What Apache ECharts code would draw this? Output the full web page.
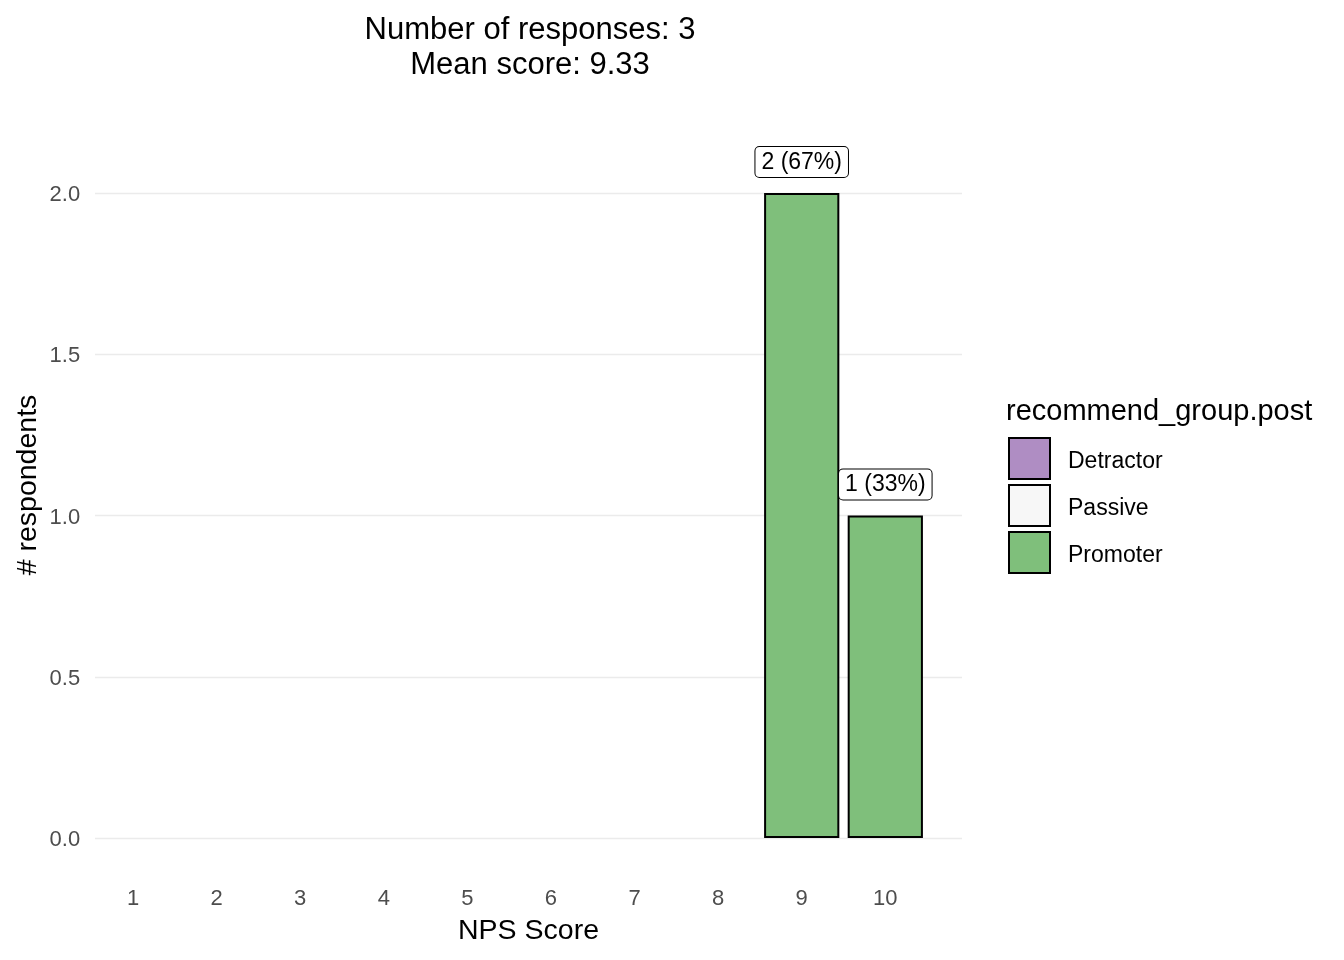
<!DOCTYPE html>
<html>
<head>
<meta charset="utf-8">
<script src="https://cdn.jsdelivr.net/npm/echarts@6/dist/echarts.min.js"></script>
<style>
html,body{margin:0;padding:0;background:#fff;}
#chart{width:1344px;height:960px;}
</style>
</head>
<body>
<div id="chart"></div>
<script>
const categories = ['1','2','3','4','5','6','7','8','9','10'];
const detractorCounts = [0,0,0,0,0,0,0,0,0,0];
const passiveCounts   = [0,0,0,0,0,0,0,0,0,0];
const promoterCounts  = [0,0,0,0,0,0,0,0,2,1];
const yTicks = [0, 0.5, 1.0, 1.5, 2.0];
const groupNames = ['Detractor','Passive','Promoter'];
const groupColors = ['#AF8DC3','#F7F7F7','#7FBF7B'];
const titleLines = ['Number of responses: 3','Mean score: 9.33'];

const FONT = '"Liberation Sans", Arial, sans-serif';
const total = [...detractorCounts, ...passiveCounts, ...promoterCounts].reduce((a,b)=>a+b,0);
const toData = arr => arr.map(v => v === 0 ? '-' : v);

const chart = echarts.init(document.getElementById('chart'), null, {renderer:'canvas'});

function barSeries(name, color, counts, withLabel){
  return {
    name: name,
    type: 'bar',
    stack: 'nps',
    xAxisIndex: 0, yAxisIndex: 0,
    barWidth: '90%',
    data: toData(counts),
    itemStyle: {color: color, borderColor: '#000', borderWidth: 2},
    label: withLabel ? {
      show: true,
      position: 'top',
      distance: 16,
      formatter: p => p.value + ' (' + Math.round(p.value / total * 100) + '%)',
      fontFamily: FONT,
      fontSize: 23,
      color: '#000',
      backgroundColor: '#fff',
      borderColor: '#000',
      borderWidth: 1,
      borderRadius: 4,
      padding: [4, 6, 3, 6]
    } : {show: false},
    emphasis: {disabled: true}
  };
}

const option = {
  animation: false,
  backgroundColor: '#fff',
  title: [
    {
      text: titleLines[0],
      subtext: titleLines[1],
      left: 530, top: 13,
      textAlign: 'center',
      itemGap: 0,
      padding: 0,
      textStyle: {fontFamily: FONT, fontSize: 31, fontWeight: 'normal', color: '#000', lineHeight: 35},
      subtextStyle: {fontFamily: FONT, fontSize: 31, color: '#000', lineHeight: 35}
    },
    {
      text: 'recommend_group.post',
      left: 1006, top: 396,
      padding: 0,
      textStyle: {fontFamily: FONT, fontSize: 29, fontWeight: 'normal', color: '#000', lineHeight: 32}
    }
  ],
  legend: {
    orient: 'vertical',
    left: 1008, top: 437,
    padding: 0,
    itemWidth: 41, itemHeight: 41, itemGap: 4,
    icon: 'rect',
    data: groupNames,
    itemStyle: {borderColor: '#000', borderWidth: 2},
    formatter: name => '{t|' + name + '}',
    textStyle: {
      fontFamily: FONT, fontSize: 23, color: '#000',
      rich: {t: {fontFamily: FONT, fontSize: 23, color: '#000', padding: [6, 0, 0, 13]}}
    },
    selectedMode: false
  },
  graphic: [
    {
      type: 'text',
      x: 28, y: 485,
      rotation: Math.PI / 2,
      style: {text: '# respondents', fontFamily: FONT, fontSize: 28.5, fill: '#000', align: 'center', verticalAlign: 'middle'}
    }
  ],
  grid: [
    {left: 91.2, top: 193, width: 835.9, height: 645},
    {left: 95, top: 193, width: 867, height: 645}
  ],
  xAxis: [
    {
      type: 'category', gridIndex: 0, data: categories,
      axisLine: {show: false}, axisTick: {show: false}, splitLine: {show: false},
      axisLabel: {fontFamily: FONT, fontSize: 22, color: '#4D4D4D', margin: 50, lineHeight: 22}
    },
    {
      type: 'value', gridIndex: 1, min: 0, max: 1,
      axisLine: {show: false}, axisTick: {show: false}, axisLabel: {show: false}, splitLine: {show: false},
      name: 'NPS Score', nameLocation: 'middle', nameGap: 78,
      nameTextStyle: {fontFamily: FONT, fontSize: 28.5, color: '#000', lineHeight: 30}
    }
  ],
  yAxis: [
    {
      type: 'value', gridIndex: 0, min: yTicks[0], max: yTicks[yTicks.length-1], interval: yTicks[1]-yTicks[0],
      axisLine: {show: false}, axisTick: {show: false}, splitLine: {show: false},
      axisLabel: {
        fontFamily: FONT, fontSize: 22, color: '#4D4D4D', margin: 11,
        formatter: v => '{y|' + v.toFixed(1) + '}',
        rich: {y: {fontFamily: FONT, fontSize: 22, color: '#4D4D4D', padding: [4, 0, 0, 0]}}
      }
    },
    {
      type: 'value', gridIndex: 1, min: yTicks[0], max: yTicks[yTicks.length-1], interval: yTicks[1]-yTicks[0],
      axisLine: {show: false}, axisTick: {show: false}, axisLabel: {show: false},
      splitLine: {show: true, lineStyle: {color: '#EBEBEB', width: 1.4}}
    }
  ],
  series: [
    barSeries(groupNames[0], groupColors[0], detractorCounts, false),
    barSeries(groupNames[1], groupColors[1], passiveCounts, false),
    barSeries(groupNames[2], groupColors[2], promoterCounts, true)
  ]
};
chart.setOption(option);
</script>
</body>
</html>
